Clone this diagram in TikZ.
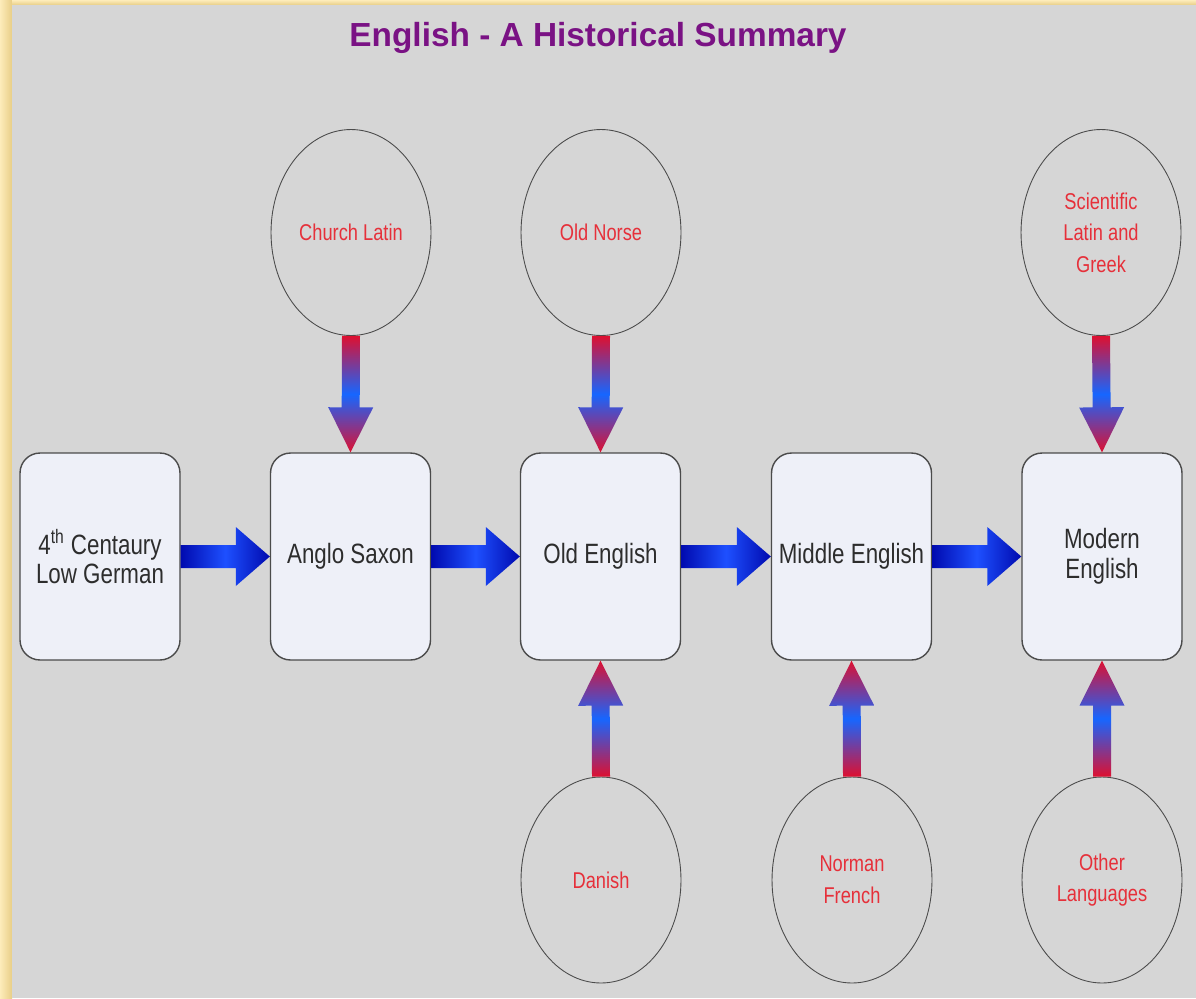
\documentclass[tikz,border=0pt]{standalone}
\usepackage{fontspec}
\setmainfont{Liberation Sans}
\newfontfamily\schmal{Liberation Sans}[FakeStretch=0.8]
\usetikzlibrary{shapes.geometric,calc}

\definecolor{grau}{RGB}{214,214,214}
\definecolor{gelb}{RGB}{253,236,186}
\definecolor{gold}{RGB}{232,206,135}
\definecolor{lila}{RGB}{122,18,132}
\definecolor{rand}{RGB}{75,75,75}
\definecolor{kastenfill}{RGB}{238,240,248}
\definecolor{textgrau}{RGB}{45,45,45}
\definecolor{rottext}{RGB}{230,48,58}
\definecolor{pfrot}{RGB}{222,16,48}
\definecolor{pfblau}{RGB}{22,102,255}
\definecolor{hdunkel}{RGB}{0,10,175}
\definecolor{hhell}{RGB}{30,80,255}

\tikzset{
  kasten/.style={rectangle, rounded corners=0.4cm, draw=rand, line width=0.8pt,
    fill=kastenfill, minimum width=3.2cm, minimum height=4.14cm, inner sep=0pt,
    align=center, text=textgrau, font=\schmal\fontsize{15.9}{17}\selectfont},
  kreis/.style={ellipse, draw=rand, line width=0.5pt, minimum width=3.2cm,
    minimum height=4.12cm, inner sep=0pt, align=center, text=rottext,
    font=\schmal\fontsize{13}{18}\selectfont},
  vpfeil/.style={top color=pfrot, bottom color=pfrot, middle color=pfblau},
  hpfeil/.style={left color=hdunkel, right color=hdunkel, middle color=hhell}
}

% Blockpfeil: #1 Stil, #2 von, #3 nach, #4 halbe Schaftbreite, #5 halbe Spitzenbreite, #6 Spitzenlaenge
\newcommand{\blockpfeil}[6]{%
  \coordinate (hb) at ($(#3)!#6!(#2)$);
  \shade[#1] ($(#2)!#4!90:(#3)$) -- ($(hb)!#4!90:(#3)$) -- ($(hb)!#5!90:(#3)$) -- (#3)
    -- ($(hb)!#5!-90:(#3)$) -- ($(hb)!#4!-90:(#3)$) -- ($(#2)!#4!-90:(#3)$) -- cycle;}

\begin{document}
\begin{tikzpicture}[x=0.02cm, y=-0.02cm]
    % Hintergrund
    \useasboundingbox (0,0) rectangle (1196,998);
    \fill[gelb] (0,0) rectangle (1196,998);
    \shade[left color=gelb, right color=gold] (0,0) rectangle (12,998);
    \shade[top color=gelb, bottom color=gold] (12,0) rectangle (1196,5);
    \fill[grau] (12,5) rectangle (1196,998);
    % Titel
    \node[anchor=base, text=lila, font=\bfseries\fontsize{19}{22}\selectfont] (titel) at (598,46) {English - A Historical Summary};
    % Kaesten
    \node[kasten] (germ) at (100,556.5) {4\textsuperscript{th} Centaury\\Low German};
    \node[kasten] (angsax) at (350.5,556.5) {Anglo Saxon};
    \node[kasten] (oldeng) at (600.5,556.5) {Old English};
    \node[kasten] (mideng) at (851.5,556.5) {Middle English};
    \node[kasten] (modeng) at (1102,556.5) {Modern\\English};
    % Kreise oben
    \node[kreis] (latin) at (351,232.5) {Church Latin};
    \node[kreis] (norse) at (601,232.5) {Old Norse};
    \node[kreis] (scilat) at (1101,232.5) {Scientific\\Latin and\\Greek};
    % Kreise unten
    \node[kreis] (danish) at (601,880) {Danish};
    \node[kreis] (french) at (852,880) {Norman\\French};
    \node[kreis] (other) at (1102,880) {Other\\Languages};
    % Pfeile waagerecht
    \blockpfeil{hpfeil}{germ.east}{angsax.west}{0.23cm}{0.59cm}{0.68cm}
    \blockpfeil{hpfeil}{angsax.east}{oldeng.west}{0.23cm}{0.59cm}{0.68cm}
    \blockpfeil{hpfeil}{oldeng.east}{mideng.west}{0.23cm}{0.59cm}{0.68cm}
    \blockpfeil{hpfeil}{mideng.east}{modeng.west}{0.23cm}{0.59cm}{0.68cm}
    % Pfeile senkrecht
    \blockpfeil{vpfeil}{latin.south}{angsax.north}{0.18cm}{0.45cm}{0.9cm}
    \blockpfeil{vpfeil}{norse.south}{oldeng.north}{0.18cm}{0.45cm}{0.9cm}
    \blockpfeil{vpfeil}{scilat.south}{modeng.north}{0.18cm}{0.45cm}{0.9cm}
    \blockpfeil{vpfeil}{danish.north}{oldeng.south}{0.18cm}{0.45cm}{0.9cm}
    \blockpfeil{vpfeil}{french.north}{mideng.south}{0.18cm}{0.45cm}{0.9cm}
    \blockpfeil{vpfeil}{other.north}{modeng.south}{0.18cm}{0.45cm}{0.9cm}
\end{tikzpicture}
\end{document}
